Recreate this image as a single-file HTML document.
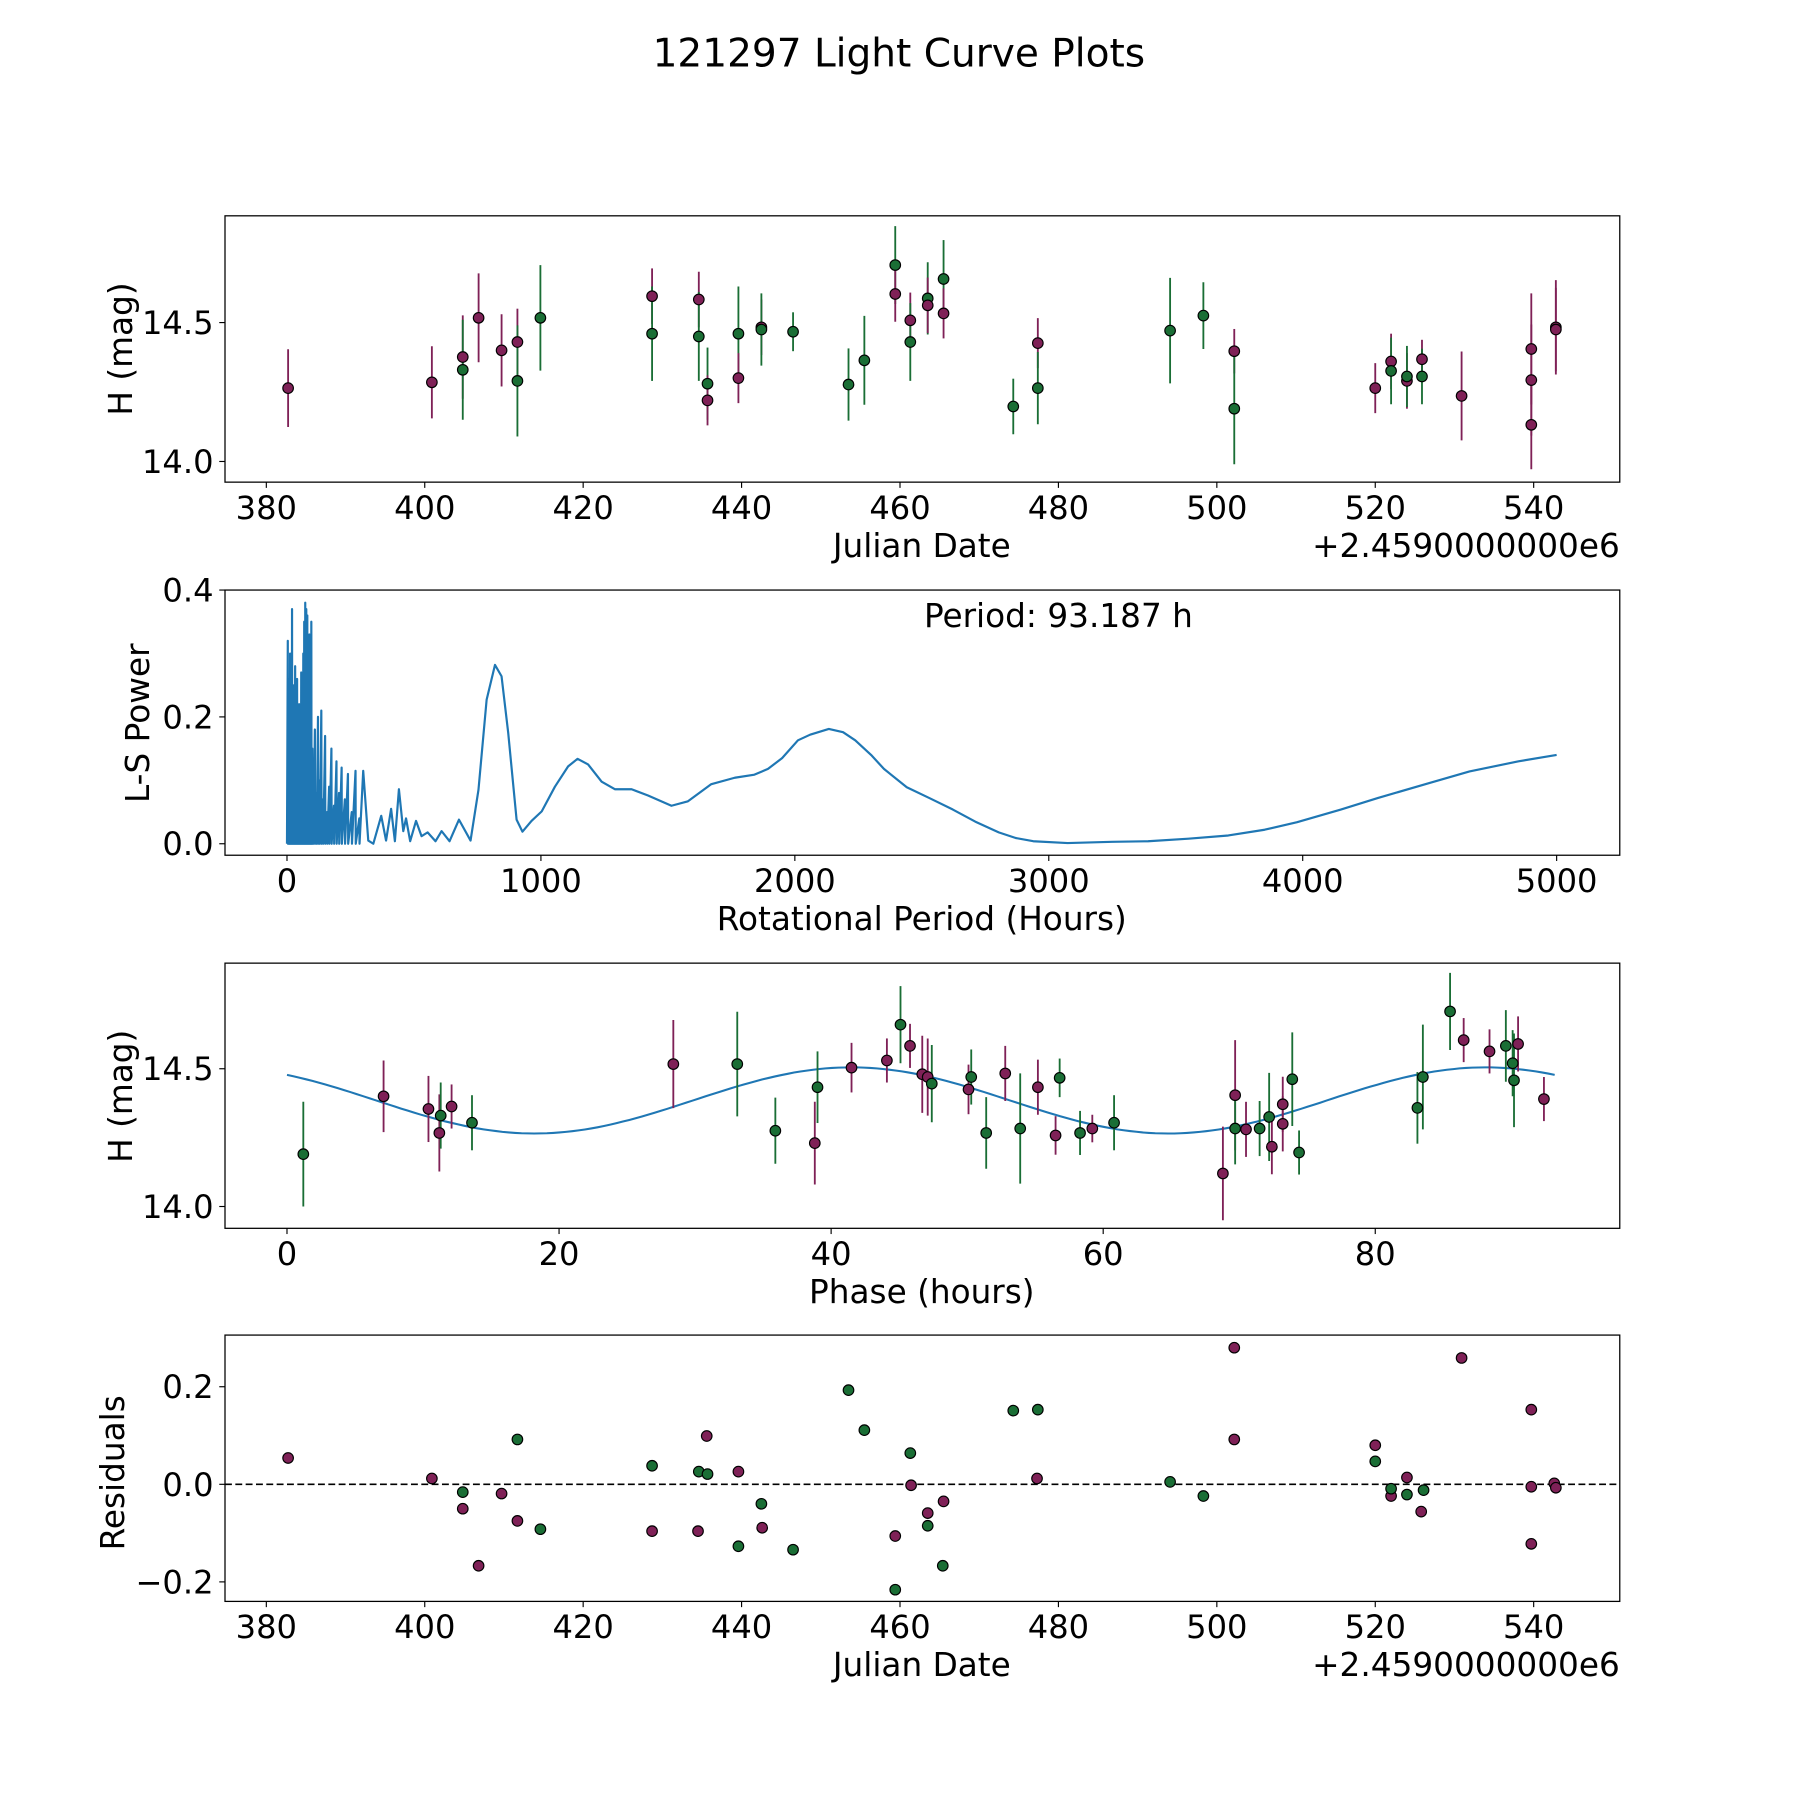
<!DOCTYPE html>
<html><head><meta charset="utf-8"><style>
html,body{margin:0;padding:0;background:#fff}
svg{display:block}
text{font-family:"DejaVu Sans","Liberation Sans",sans-serif;fill:#000}
</style></head><body>
<svg id="fig" xmlns="http://www.w3.org/2000/svg" width="1800" height="1800" viewBox="0 0 1568 1568">
<rect width="1568" height="1568" fill="#fff"/>
<text x="783" y="58" font-size="34" text-anchor="middle">121297 Light Curve Plots</text>
<g id="g1"></g>
<g id="g2"></g>
<g id="g3"></g>
<g id="g4"></g>
</svg>
<script>
// ---- data: light curve ----
const lcDates = [382.75,400.9,404.8,404.8,406.8,409.7,411.7,411.7,414.6,428.7,428.7,434.6,434.6,435.7,435.7,439.6,439.6,442.5,442.5,446.5,453.5,455.5,459.4,459.4,461.3,461.3,463.5,463.5,465.5,465.5,474.3,477.4,477.4,494.1,498.3,502.2,502.2,520,522,522,524,524,525.9,525.9,530.9,539.7,539.7,539.7,542.8,542.8];
const lcMags = [14.264,14.285,14.376,14.33,14.517,14.40,14.43,14.29,14.517,14.595,14.46,14.583,14.45,14.28,14.22,14.46,14.30,14.483,14.475,14.467,14.277,14.364,14.707,14.603,14.508,14.43,14.587,14.562,14.657,14.533,14.198,14.426,14.264,14.471,14.525,14.397,14.19,14.264,14.36,14.326,14.29,14.306,14.368,14.306,14.236,14.405,14.293,14.132,14.483,14.475];
const lcErrs = [0.14,0.13,0.15,0.18,0.16,0.13,0.12,0.2,0.19,0.1,0.17,0.1,0.16,0.13,0.09,0.17,0.09,0.1,0.13,0.07,0.13,0.16,0.14,0.1,0.1,0.14,0.13,0.1,0.14,0.09,0.1,0.09,0.13,0.19,0.12,0.08,0.2,0.09,0.1,0.12,0.1,0.11,0.07,0.1,0.16,0.2,0.2,0.16,0.17,0.15];
const lcBands = ['p','p','p','g','p','p','p','g','g','p','g','p','g','g','p','g','p','p','g','g','g','g','g','p','p','g','g','p','g','p','g','p','g','g','g','p','g','p','p','g','p','g','p','g','p','p','p','p','p','p'];
// ---- data: periodogram ----
const spikePeriods = [3,6,8,10,12,14,16,18,20,22,24,26,28,30,32,34,36,38,40,42,44,46,48,50,52,54,56,58,60,62,64,66,68,70,72,74,76,78,80,82,84,86,88,90,92,94,96,98,100,104,110,116,122,128,135,142,150,158,166,175,185,195,205,215,228,240,255,270,285];
const spikePowers = [0.32,0.1,0.26,0.15,0.30,0.12,0.22,0.2,0.37,0.1,0.20,0.18,0.25,0.12,0.28,0.2,0.15,0.1,0.26,0.14,0.18,0.08,0.22,0.15,0.12,0.09,0.27,0.17,0.21,0.1,0.30,0.2,0.35,0.25,0.38,0.2,0.37,0.3,0.36,0.2,0.30,0.25,0.33,0.15,0.20,0.28,0.35,0.1,0.15,0.12,0.18,0.08,0.20,0.10,0.21,0.07,0.17,0.05,0.09,0.15,0.06,0.13,0.08,0.12,0.07,0.11,0.05,0.115,0.04];
const smoothPeriods = [300,320,340,371,390,410,425,441,458,469,485,508,530,554,585,609,640,677,723,754,786,819,845,871,904,927,963,1003,1055,1107,1144,1186,1239,1291,1357,1422,1514,1579,1671,1763,1841,1894,1950,2012,2060,2134,2190,2238,2300,2351,2441,2530,2622,2710,2803,2870,2939,3074,3250,3391,3550,3707,3850,3978,4150,4295,4500,4657,4850,5000];
const smoothPowers = [0.115,0.005,0.0,0.044,0.005,0.055,0.004,0.086,0.02,0.04,0.004,0.036,0.012,0.018,0.004,0.02,0.004,0.038,0.005,0.085,0.227,0.282,0.264,0.175,0.038,0.019,0.036,0.051,0.09,0.122,0.134,0.125,0.098,0.086,0.086,0.076,0.06,0.067,0.094,0.104,0.109,0.118,0.135,0.163,0.172,0.181,0.176,0.163,0.14,0.118,0.089,0.072,0.054,0.035,0.018,0.009,0.004,0.001,0.003,0.004,0.008,0.013,0.022,0.034,0.054,0.072,0.096,0.114,0.13,0.14];
// ---- data: phase folded ----
const phPhases = [1.2,7.1,10.4,11.2,11.3,12.1,13.6,28.4,33.1,35.9,38.8,39.0,41.5,44.1,45.1,45.8,46.7,47.1,47.4,50.1,50.3,51.4,52.8,53.9,55.2,56.5,56.8,58.3,59.2,60.8,68.8,69.7,69.7,70.5,71.5,72.2,72.4,73.2,73.2,73.9,74.4,83.1,83.5,85.5,86.5,88.4,89.6,90.1,90.2,90.5,92.4];
const phMags = [14.19,14.40,14.354,14.267,14.33,14.363,14.304,14.517,14.517,14.275,14.23,14.433,14.504,14.53,14.66,14.583,14.48,14.47,14.446,14.425,14.47,14.267,14.483,14.283,14.433,14.258,14.467,14.267,14.283,14.304,14.12,14.404,14.283,14.28,14.283,14.325,14.217,14.3,14.371,14.462,14.196,14.358,14.47,14.708,14.604,14.563,14.583,14.52,14.458,14.59,14.39];
const phErrs = [0.19,0.13,0.12,0.14,0.12,0.08,0.1,0.16,0.19,0.12,0.15,0.13,0.09,0.08,0.14,0.08,0.14,0.14,0.14,0.09,0.1,0.13,0.1,0.2,0.1,0.07,0.07,0.08,0.05,0.1,0.17,0.2,0.13,0.1,0.1,0.16,0.1,0.1,0.1,0.17,0.08,0.13,0.19,0.14,0.08,0.08,0.13,0.12,0.17,0.1,0.08];
const phBands = ['g','p','p','p','g','p','g','p','g','g','p','g','p','p','g','p','p','p','g','p','g','g','p','g','p','p','g','g','p','g','p','p','g','p','g','g','p','p','p','g','g','g','g','g','p','p','g','g','g','p','p'];
const fitMean = 14.385, fitAmp = 0.12, fitPeak = 41.5, fitHalfPeriod = 46.6, period = 93.187;
// ---- data: residuals ----
const resDates = [382.75,400.9,404.8,404.8,406.8,409.7,411.7,411.7,414.6,428.7,428.7,434.6,434.5,435.7,435.6,439.6,439.6,442.5,442.6,446.5,453.5,455.5,459.4,459.4,461.3,461.4,463.5,463.5,465.5,465.4,474.3,477.4,477.3,494.1,498.3,502.2,502.2,520,520,522,522,524,524,525.8,526.1,530.9,539.7,539.7,539.7,542.6,542.8];
const resVals = [0.054,0.012,-0.016,-0.05,-0.167,-0.019,-0.075,0.092,-0.092,0.038,-0.096,0.026,-0.096,0.021,0.099,0.026,-0.127,-0.04,-0.089,-0.134,0.193,0.111,-0.106,-0.216,0.064,-0.002,-0.059,-0.085,-0.035,-0.167,0.151,0.153,0.012,0.005,-0.024,0.28,0.092,0.08,0.047,-0.024,-0.009,0.014,-0.021,-0.056,-0.012,0.259,0.153,-0.005,-0.122,0.002,-0.007];
const resBands = ['p','p','g','p','p','p','p','g','g','g','p','g','p','g','p','p','g','g','p','g','g','g','p','g','g','p','p','g','p','g','g','g','p','g','g','p','p','p','g','p','g','p','g','p','g','p','p','p','p','p','p'];
const jdTicks = [380,400,420,440,460,480,500,520,540];
const magTicks = [14.0,14.5];
const lsXTicks = [0,1000,2000,3000,4000,5000];
const lsYTicks = [0.0,0.2,0.4];
const phTicks = [0,20,40,60,80];
const resTicks = [-0.2,0.0,0.2];

const NS='http://www.w3.org/2000/svg';
const COL={p:'#7f2157',g:'#1a6e35'};
function mk(tag,attrs,parent){const e=document.createElementNS(NS,tag);for(const k in attrs)e.setAttribute(k,attrs[k]);parent.appendChild(e);return e;}
function lin(d0,d1,r0,r1){return v=>r0+(v-d0)*(r1-r0)/(d1-d0);}
function fmt(v,dec){const s=v.toFixed(dec);return v<0?'\u2212'+s.slice(1):s;}

function frame(g,L,T,R,B){
  const f=mk('rect',{x:L,y:T,width:R-L,height:B-T,fill:'none',stroke:'#000','stroke-width':1.1},g);
  
  
}
function xticks(g,ticks,sx,B,dec){
  ticks.forEach(t=>{const x=sx(t);
    const l=mk('line',{x1:x,x2:x,y1:B,y2:B+5,stroke:'#000','stroke-width':1},g);
    
    
    const tx=mk('text',{x:x,y:B+32,'font-size':28,'text-anchor':'middle'},g);
    
    
    tx.textContent=fmt(t,dec);});
}
function yticks(g,ticks,sy,L,dec){
  ticks.forEach(t=>{const y=sy(t);
    const l=mk('line',{x1:L-5,x2:L,y1:y,y2:y,stroke:'#000','stroke-width':1},g);
    
    
    const tx=mk('text',{x:L-10,y:y+10,'font-size':28,'text-anchor':'end'},g);
    
    
    tx.textContent=fmt(t,dec);});
}
function label(g,txt,x,y,rot,name,anchor){
  const t=mk('text',{x:x,y:y,'font-size':28.5,'text-anchor':anchor||'middle'},g);
  if(rot)t.setAttribute('transform','rotate(-90 '+x+' '+y+')');
  
  
  t.textContent=txt;
}
function points(g,xs,ys,errs,bands,sx,sy){
  if(errs){xs.forEach((v,i)=>{const x=sx(v);
    const e=mk('line',{x1:x,x2:x,y1:sy(ys[i]-errs[i]),y2:sy(ys[i]+errs[i]),stroke:COL[bands[i]],'stroke-width':1.6},g);
    
    });}
  xs.forEach((v,i)=>{
    const c=mk('circle',{cx:sx(v),cy:sy(ys[i]),r:4.6,fill:COL[bands[i]],stroke:'#000','stroke-width':1},g);
    
    });
}

// Panel 1
(function(){const g=document.getElementById('g1');
  const L=196,R=1411,T=188,B=420;
  const sx=lin(380,540,232,1336), sy=lin(14.0,14.5,402,281);
  frame(g,L,T,R,B);
  points(g,lcDates,lcMags,lcErrs,lcBands,sx,sy);
  xticks(g,jdTicks,sx,B,0); yticks(g,magTicks,sy,L,1);
  label(g,'Julian Date',803,485,false,'x-axis-title');
  label(g,'+2.4590000000e6',1411,485,false,'x-axis-offset','end');
  label(g,'H (mag)',115,304,true,'y-axis-title');
})();
// Panel 2
(function(){const g=document.getElementById('g2');
  const L=196,R=1411,T=514,B=745;
  const sx=lin(0,5000,250,1356), sy=lin(0,0.4,735,514);
  frame(g,L,T,R,B);
  let pts=[[sx(0),sy(0)]];
  spikePeriods.forEach((p,i)=>{pts.push([sx(p),sy(spikePowers[i])]);pts.push([sx(p+0.9),sy(0)]);});
  smoothPeriods.forEach((p,i)=>pts.push([sx(p),sy(smoothPowers[i])]));
  const pl=mk('polyline',{points:pts.map(a=>a[0].toFixed(1)+','+a[1].toFixed(1)).join(' '),fill:'none',stroke:'#1f77b4','stroke-width':1.9,'stroke-linejoin':'round'},g);
  
  
  xticks(g,lsXTicks,sx,B,0); yticks(g,lsYTicks,sy,L,1);
  label(g,'Rotational Period (Hours)',803,810,false,'x-axis-title');
  label(g,'L-S Power',130,630,true,'y-axis-title');
  label(g,'Period: 93.187 h',922,546,false,'period-annotation');
})();
// Panel 3
(function(){const g=document.getElementById('g3');
  const L=196,R=1411,T=839,B=1070;
  const sx=lin(0,80,250,1198), sy=lin(14.0,14.5,1051,931);
  frame(g,L,T,R,B);
  let pts=[];
  for(let i=0;i<=200;i++){const ph=period*i/200;
    const m=fitMean+fitAmp*Math.cos(2*Math.PI*(ph-fitPeak)/fitHalfPeriod);
    pts.push(sx(ph).toFixed(1)+','+sy(m).toFixed(1));}
  const pl=mk('polyline',{points:pts.join(' '),fill:'none',stroke:'#1f77b4','stroke-width':1.8},g);
  
  
  points(g,phPhases,phMags,phErrs,phBands,sx,sy);
  xticks(g,phTicks,sx,B,0); yticks(g,magTicks,sy,L,1);
  label(g,'Phase (hours)',803,1135,false,'x-axis-title');
  label(g,'H (mag)',115,955,true,'y-axis-title');
})();
// Panel 4
(function(){const g=document.getElementById('g4');
  const L=196,R=1411,T=1163,B=1395;
  const sx=lin(380,540,232,1336), sy=lin(0,0.2,1293,1208);
  frame(g,L,T,R,B);
  const z=mk('line',{x1:L,x2:R,y1:sy(0),y2:sy(0),stroke:'#000','stroke-width':1.5,'stroke-dasharray':'6,3'},g);
  
  
  points(g,resDates,resVals,null,resBands,sx,sy);
  xticks(g,jdTicks,sx,B,0); yticks(g,resTicks,sy,L,1);
  label(g,'Julian Date',803,1460,false,'x-axis-title');
  label(g,'+2.4590000000e6',1411,1460,false,'x-axis-offset','end');
  label(g,'Residuals',108,1283,true,'y-axis-title');
})();
</script>
</body></html>
